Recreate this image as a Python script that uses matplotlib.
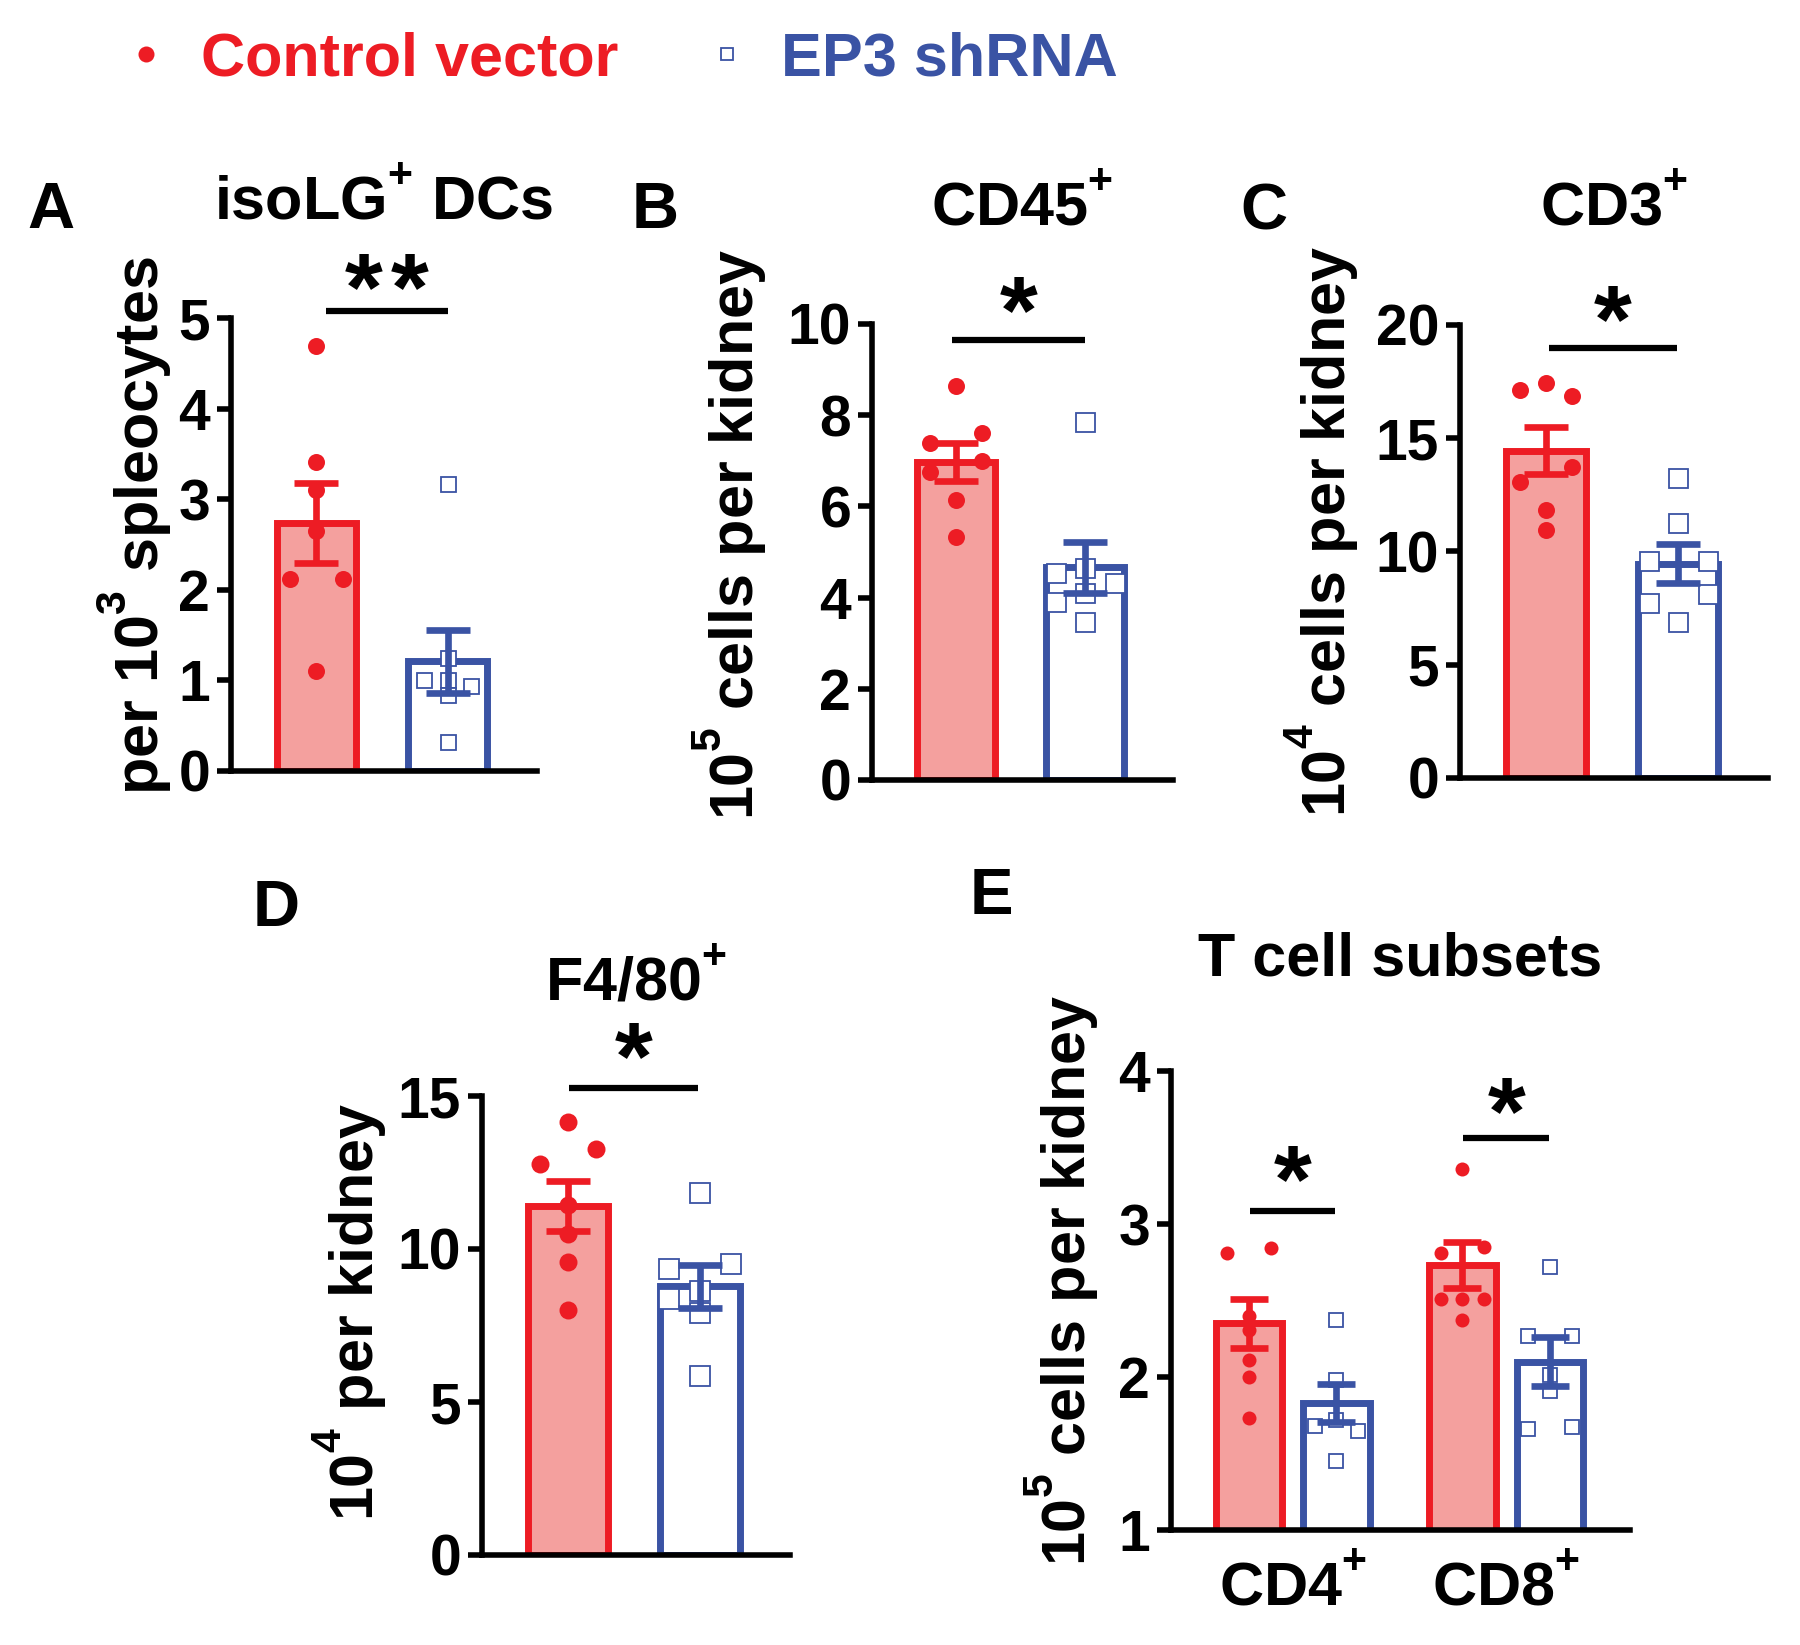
import numpy as np
import matplotlib
matplotlib.use('Agg')
import matplotlib.pyplot as plt
import matplotlib._mathtext as mathtext_internal

plt.rcParams['font.family'] = ['Liberation Sans', 'DejaVu Sans']
plt.rcParams['font.weight'] = 'bold'
plt.rcParams['mathtext.fontset'] = 'custom'
plt.rcParams['mathtext.rm'] = 'Liberation Sans:bold'
plt.rcParams['mathtext.it'] = 'Liberation Sans:bold'
plt.rcParams['mathtext.bf'] = 'Liberation Sans:bold'
plt.rcParams['mathtext.sf'] = 'Liberation Sans:bold'
plt.rcParams['mathtext.default'] = 'rm'
# raise superscripts a little higher, like the GraphPad export
mathtext_internal.FontConstantsBase.sup1 = 1.0

RED = '#ED1C24'
PINK = '#F4A09E'
BLUE = '#3A53A4'

# ---- values ----
groups = ['Control vector', 'EP3 shRNA']

# A: isoLG+ DCs per 10^3 spleocytes
dc_ctrl = [4.69, 3.41, 3.10, 2.65, 2.12, 2.12, 1.10]
dc_ep3 = [3.17, 1.25, 1.00, 1.00, 0.94, 0.84, 0.32]
dc_mean = [2.74, 1.21]
dc_sem = [0.44, 0.35]

# B: CD45+ (10^5 cells per kidney)
cd45_ctrl = [8.64, 7.61, 7.40, 7.00, 6.76, 6.14, 5.32]
cd45_ep3 = [7.85, 4.64, 4.55, 4.31, 4.09, 3.90, 3.46]
cd45_mean = [6.98, 4.67]
cd45_sem = [0.42, 0.56]

# C: CD3+ (10^4 cells per kidney)
cd3_ctrl = [17.45, 17.15, 16.88, 13.75, 13.08, 11.84, 10.97]
cd3_ep3 = [13.25, 11.27, 9.60, 9.56, 8.12, 7.74, 6.88]
cd3_mean = [14.45, 9.45]
cd3_sem = [1.03, 0.86]

# D: F4/80+ (10^4 per kidney)
f480_ctrl = [14.15, 13.27, 12.78, 11.44, 10.49, 9.58, 8.00]
f480_ep3 = [11.83, 9.50, 9.35, 8.63, 8.36, 7.92, 5.86]
f480_mean = [11.40, 8.78]
f480_sem = [0.82, 0.70]

# E: T cell subsets (10^5 cells per kidney)
subsets = ['CD4$^{+}$', 'CD8$^{+}$']
tcell_ctrl = [[2.84, 2.81, 2.40, 2.31, 2.11, 2.00, 1.73],
              [3.36, 2.85, 2.81, 2.51, 2.51, 2.51, 2.37]]
tcell_ep3 = [[2.37, 1.98, 1.72, 1.68, 1.65, 1.45],
             [2.72, 2.27, 2.27, 2.01, 1.91, 1.66, 1.67]]
tcell_mean_ctrl = [2.35, 2.73]
tcell_sem_ctrl = [0.16, 0.15]
tcell_mean_ep3 = [1.83, 2.10]
tcell_sem_ep3 = [0.125, 0.16]

W, H = 1800, 1645
PT = 100 / 72  # pixels per point
fig = plt.figure(figsize=(W / 100, H / 100), dpi=100)


def add_axes(left, right, base, top):
    return fig.add_axes([left / W, 1 - base / H, (right - left) / W, (base - top) / H])


def ftext(x, y, s, **kw):
    return fig.text(x / W, 1 - y / H, s, **kw)


def style(ax, xlim, ylim, yticks):
    ax.set_xlim(*xlim)
    ax.set_ylim(*ylim)
    ax.set_yticks(yticks)
    for s in ['top', 'right']:
        ax.spines[s].set_visible(False)
    for s in ['left', 'bottom']:
        ax.spines[s].set_linewidth(4)
    ax.tick_params(axis='y', length=10, width=4, labelsize=41, pad=5)
    ax.tick_params(axis='x', length=0)
    ax.set_xticks([])


def swarm_x(ax, x0, vals, size):
    # GraphPad-like scatter: spread points that would overlap into columns
    vals = np.asarray(vals, float)
    y_px = ax.transData.transform(np.column_stack([np.full(len(vals), x0), vals]))[:, 1]
    x_unit = ax.transData.transform([(1, 0)])[0, 0] - ax.transData.transform([(0, 0)])[0, 0]
    step = 1.55 * size / x_unit
    gap = 0.9 * size
    order = np.argsort(-vals, kind='stable')
    cols = np.zeros(len(vals))
    clusters = [[order[0]]]
    for i in order[1:]:
        if y_px[clusters[-1][-1]] - y_px[i] < gap:
            clusters[-1].append(i)
        else:
            clusters.append([i])
    for cl in clusters:
        if len(cl) == 2:
            cols[cl[0]], cols[cl[1]] = 1, -1
            continue
        placed = []
        for i in cl:
            for c in [0, -1, 1, -2, 2]:
                if all(cols[j] != c or abs(y_px[j] - y_px[i]) >= gap for j in placed):
                    cols[i] = c
                    break
            placed.append(i)
    return x0 + cols * step


def draw_group(ax, x, vals, mean, sem, ctrl, size, width, cap):
    color = RED if ctrl else BLUE
    ax.bar(x, mean, width=width, color=PINK if ctrl else 'white',
           edgecolor=color, linewidth=5, zorder=1)
    xs = swarm_x(ax, x, vals, size)
    if ctrl:
        ax.plot(xs, vals, 'o', ms=size / PT, color=color, mew=0, zorder=3, clip_on=False)
    else:
        ax.plot(xs, vals, 's', ms=size / PT, mfc='white', mec=color, mew=1.3,
                zorder=3, clip_on=False)
    ax.errorbar(x, mean, yerr=sem, fmt='none', ecolor=color, elinewidth=4.8,
                capsize=cap, capthick=4.8, zorder=4)


def sig(ax, x1, x2, y, ystar, n_stars, fs=70):
    ax.plot([x1, x2], [y, y], color='black', lw=4.5, clip_on=False,
            solid_capstyle='butt')
    # asterisk glyph centre sits about 0.49 em above the baseline
    for k in range(n_stars):
        dx = (k - (n_stars - 1) / 2) * 33.6
        ax.annotate('*', xy=((x1 + x2) / 2, ystar), xytext=(dx, -0.487 * fs),
                    textcoords='offset points', ha='center', va='baseline',
                    fontsize=fs, annotation_clip=False)


def two_bar_panel(box, ylim, yticks, ctrl, ep3, means, sems, dot, sq):
    ax = add_axes(*box)
    style(ax, (-0.65, 1.68), ylim, yticks)
    draw_group(ax, 0, ctrl, means[0], sems[0], True, dot, 0.6, 16)
    draw_group(ax, 1, ep3, means[1], sems[1], False, sq, 0.6, 16)
    return ax


# A
axA = two_bar_panel((231, 537, 771, 318), (0, 5), range(6),
                    dc_ctrl, dc_ep3, dc_mean, dc_sem, 17, 15)
sig(axA, 0.07, 1.0, 5.08, 5.5, 2)

# B
axB = two_bar_panel((872, 1173, 780, 324), (0, 10), range(0, 11, 2),
                    cd45_ctrl, cd45_ep3, cd45_mean, cd45_sem, 17, 19)
sig(axB, -0.03, 1.0, 9.65, 10.63, 1)

# C
axC = two_bar_panel((1460, 1768, 778, 325), (0, 20), range(0, 21, 5),
                    cd3_ctrl, cd3_ep3, cd3_mean, cd3_sem, 17, 19)
sig(axC, 0.02, 0.99, 18.99, 20.9, 1)

# D
axD = two_bar_panel((482, 790, 1555, 1096), (0, 15), range(0, 16, 5),
                    f480_ctrl, f480_ep3, f480_mean, f480_sem, 18, 20)
sig(axD, 0.01, 0.985, 15.26, 16.76, 1)

# E
axE = add_axes(1171, 1630, 1530, 1071)
style(axE, (-0.57, 1.58), (1, 4), range(1, 5))
pos = np.arange(len(subsets))
for i in pos:
    draw_group(axE, i - 0.205, tcell_ctrl[i], tcell_mean_ctrl[i], tcell_sem_ctrl[i],
               True, 14, 0.31, 13.4)
    draw_group(axE, i + 0.205, tcell_ep3[i], tcell_mean_ep3[i], tcell_sem_ep3[i],
               False, 14, 0.31, 13.4)
axE.set_xticks(pos, subsets)
axE.tick_params(axis='x', length=0, labelsize=44, pad=20)
sig(axE, -0.2, 0.2, 3.085, 3.385, 1)
sig(axE, 0.8, 1.2, 3.56, 3.835, 1)

# titles
ftext(384, 219, 'isoLG$^{+}$ DCs', fontsize=44, ha='center', va='baseline')
ftext(1022, 226, 'CD45$^{+}$', fontsize=44, ha='center', va='baseline')
ftext(1614, 226, 'CD3$^{+}$', fontsize=44, ha='center', va='baseline')
ftext(636, 1001, 'F4/80$^{+}$', fontsize=44, ha='center', va='baseline')
ftext(1400, 975, 'T cell subsets', fontsize=44, ha='center', va='baseline')

# y labels
ylab = dict(fontsize=44, rotation=90, ha='center', va='center')
ftext(134, 526, 'per 10$^{3}$ spleocytes', **ylab)
ftext(730, 534, '10$^{5}$ cells per kidney', **ylab)
ftext(1322, 531, '10$^{4}$ cells per kidney', **ylab)
ftext(350, 1312, '10$^{4}$ per kidney', **ylab)
ftext(1062, 1280, '10$^{5}$ cells per kidney', **ylab)

# panel letters
for letter, x, y in [('A', 27, 228), ('B', 632, 228), ('C', 1240, 230),
                     ('D', 253, 926), ('E', 970, 914)]:
    ftext(x, y, letter, fontsize=47, ha='left', va='baseline')

# legend
leg = fig.add_axes([0, 0, 1, 1])
leg.set_xlim(0, W)
leg.set_ylim(H, 0)
leg.axis('off')
leg.plot([146], [54], 'o', ms=16 / PT, color=RED, mew=0)
leg.plot([727], [54], 's', ms=12 / PT, mfc='white', mec=BLUE, mew=1.3)
ftext(201, 76, groups[0], fontsize=44, color=RED, ha='left', va='baseline')
ftext(781, 76, groups[1], fontsize=44, color=BLUE, ha='left', va='baseline')

fig.savefig('out.png', dpi=100)
